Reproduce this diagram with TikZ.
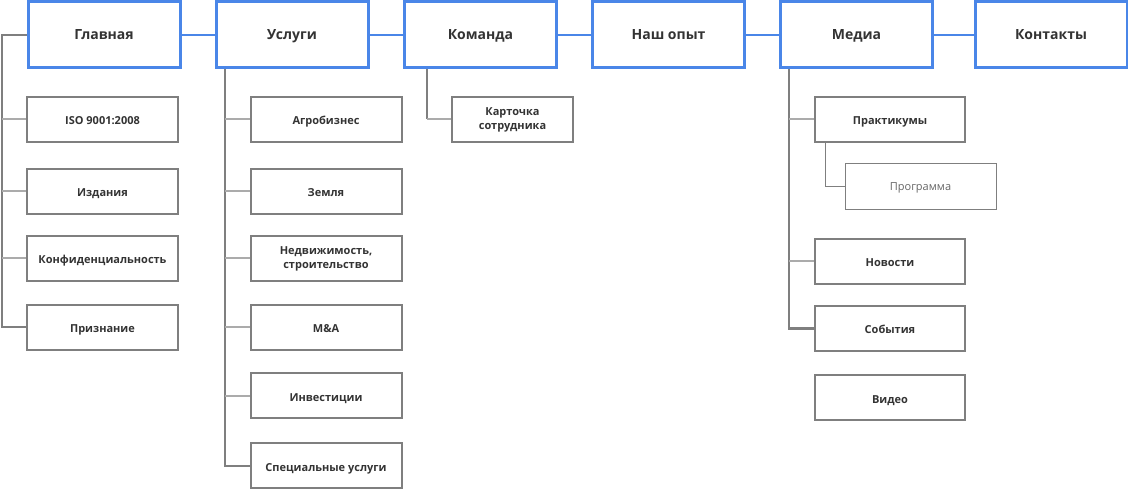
\documentclass[tikz,border=0pt]{standalone}
\usepackage{fontspec}
\setmainfont{Open Sans}
\definecolor{topblue}{HTML}{4A86E8}
\definecolor{boxgray}{HTML}{7F7F7F}
\definecolor{lightline}{HTML}{ABABAB}
\definecolor{txt}{HTML}{333333}
\tikzset{
  topbox/.style={draw=topblue, line width=3pt, minimum width=152pt, minimum height=66pt, inner sep=0pt,
    text height=10pt, text depth=0pt,
    font=\fontsize{14}{16}\selectfont\bfseries, text=txt},
  subbox/.style={draw=boxgray, line width=2pt, minimum width=151pt, minimum height=45pt, inner sep=0pt,
    font=\fontsize{11}{14}\selectfont\bfseries, text=txt, align=center},
  onebox/.style={subbox, text height=11pt, text depth=0pt},
  thinbox/.style={draw=boxgray, line width=0.9pt, minimum width=151pt, minimum height=46pt, inner sep=0pt,
    text height=10pt, text depth=0pt,
    font=\fontsize{11}{14}\selectfont, text=boxgray!80!black},
  blueline/.style={draw=topblue, line width=2pt},
  trunkline/.style={draw=boxgray, line width=2pt},
  branchline/.style={draw=lightline, line width=2pt},
}
\begin{document}
\begin{tikzpicture}[x=1pt,y=-1pt]
\useasboundingbox (0,0) rectangle (1128,489);
% top level
\node[topbox] (glav) at (104,35) {Главная};
\node[topbox] (usl) at (292,35) {Услуги};
\node[topbox] (kom) at (480.5,35) {Команда};
\node[topbox] (opyt) at (668.5,35) {Наш опыт};
\node[topbox] (media) at (856.5,35) {Медиа};
\node[topbox] (kont) at (1051,35) {Контакты};
\draw[blueline] (glav) -- (usl);
\draw[blueline] (usl) -- (kom);
\draw[blueline] (kom) -- (opyt);
\draw[blueline] (opyt) -- (media);
\draw[blueline] (media) -- (kont);
% Главная children
\node[onebox] (iso) at (102.5,119.5) {ISO 9001:2008};
\node[onebox] (izd) at (102.5,191.5) {Издания};
\node[onebox] (konf) at (102.5,258.5) {Конфиденциальность};
\node[onebox] (priz) at (102.5,327.5) {Признание};
\coordinate (gtrunk) at (1.5,0);
\draw[trunkline] (glav.west) -| (gtrunk |- priz.west) -- (priz.west);
\foreach \n in {iso,izd,konf}{\draw[branchline] (gtrunk |- \n.west) -- (\n.west);}
% Услуги children
\node[onebox] (agro) at (326,119.5) {Агробизнес};
\node[onebox] (zem) at (326,191.5) {Земля};
\node[subbox] (nedv) at (326,258.5) {Недвижимость,\\строительство};
\node[onebox] (ma) at (326,327.5) {M\&A};
\node[onebox] (inv) at (326,395.5) {Инвестиции};
\node[onebox] (spec) at (326,465.5) {Специальные услуги};
\coordinate (utrunk) at (225,0);
\draw[trunkline] (utrunk |- usl.south) |- (spec.west);
\foreach \n in {agro,zem,nedv,ma,inv}{\draw[branchline] (utrunk |- \n.west) -- (\n.west);}
% Команда child
\node[subbox, minimum width=121pt] (kart) at (512.5,119.5) {Карточка\\сотрудника};
\coordinate (ktrunk) at (427,0);
\draw[trunkline] (ktrunk |- kom.south) -- (ktrunk |- kart.west);
\draw[branchline] (ktrunk |- kart.west) -- (kart.west);
% Медиа children
\node[onebox, minimum width=150pt] (prak) at (890,119.5) {Практикумы};
\node[thinbox] (prog) at (920.5,186) {Программа};
\node[onebox, minimum width=150pt] (nov) at (890,261.5) {Новости};
\node[onebox, minimum width=150pt] (sob) at (890,328.5) {События};
\node[onebox, minimum width=150pt] (vid) at (890,397.5) {Видео};
\coordinate (mtrunk) at (789,0);
\draw[trunkline] (mtrunk |- media.south) |- (sob.west);
\foreach \n in {prak,nov}{\draw[branchline] (mtrunk |- \n.west) -- (\n.west);}
\coordinate (ptrunk) at (825.5,0);
\draw[draw=boxgray, line width=0.9pt] (ptrunk |- prak.south) |- (prog.west);
\end{tikzpicture}
\end{document}
